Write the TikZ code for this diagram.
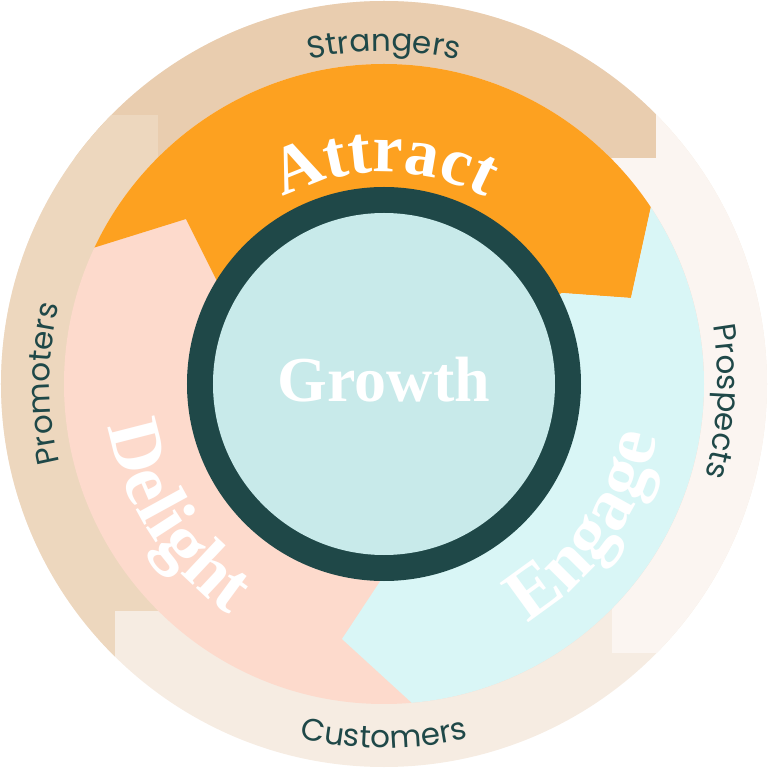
\documentclass[tikz,border=0pt]{standalone}
\usepackage{fontspec}
\usetikzlibrary{decorations.text}
\newfontfamily\dispfont{Liberation Serif}
\newfontfamily\labfont{Poppins}
\definecolor{cStr}{HTML}{E9CDAF}
\definecolor{cPro}{HTML}{EDD7BE}
\definecolor{cCus}{HTML}{F6ECE2}
\definecolor{cPsp}{HTML}{FBF5F1}
\definecolor{cOra}{HTML}{FDA120}
\definecolor{cPea}{HTML}{FDDACC}
\definecolor{cCya}{HTML}{D9F6F6}
\definecolor{cDrk}{HTML}{1F4848}
\definecolor{cIn}{HTML}{C8EAEA}
\newcommand{\labf}{\labfont\fontsize{31}{31}\selectfont}
\newcommand{\bigf}{\dispfont\bfseries\fontsize{68}{68}\selectfont}
\newcommand{\sidef}{\dispfont\bfseries\fontsize{74}{74}\selectfont}
\tikzset{
  lab/.style={decorate,decoration={text along path,text align=center,text color=cDrk,text={|\labf|#1}}},
  big/.style={decorate,decoration={text along path,text align=center,text color=white,text={|\bigf|#1}}},
  bigside/.style={decorate,decoration={text along path,text align=center,text color=white,text={|\sidef|#1}}}
}
\begin{document}
\begin{tikzpicture}[x=1pt,y=1pt]
\useasboundingbox (-384,-384) rectangle (384,384);
\begin{scope}
\clip (0,0) circle (383);
\fill[cCus] (-384,-384) rectangle (384,384);
\fill[cPsp] (228,269) rectangle (384,-269);
\fill[cStr] (-384,384) rectangle (272,226);
\fill[cPro] (-384,269) rectangle (-226,-227);
\fill[cPro] (-384,-227) rectangle (-269,-384);
\end{scope}
\begin{scope}
\clip (0,0) circle (320);
\fill[cPea] (-320,-320) rectangle (320,320);
\fill[cOra] (0,0) -- (-167,103) -- (-198,165) -- (-291,136) -- (-384,92) -- (-384,500) -- (500,500) -- (416,284) -- (268,182) -- (247,86) -- (178,91) -- cycle;
\fill[cCya] (0,0) -- (178,91) -- (247,86) -- (268,182) -- (416,284) -- (500,-500) -- (40,-450) -- (28,-319) -- (-42,-255) -- (-3,-196) -- cycle;
\end{scope}
\node[circle,fill=cDrk,minimum size=394pt,inner sep=0pt] (ring) at (0,0) {};
\node[circle,fill=cIn,minimum size=342pt,inner sep=0pt] (core) at (0,0) {};
\node[text=white,font=\dispfont\bfseries\fontsize{64}{64}\selectfont] (growth) at (0,4) {Growth};
% outer labels
\path[lab=Strangers] (135:333) arc[start angle=135,end angle=45,radius=333];
\path[lab=Prospects] (45:334) arc[start angle=45,end angle=-51,radius=334];
\path[lab=Customers] (225:364) arc[start angle=225,end angle=315,radius=364];
\path[lab=Promoters] (228:334) arc[start angle=228,end angle=132,radius=334];
% band labels
\path[big=Attract] (140:212) arc[start angle=140,end angle=40,radius=212];
\path[bigside=Engage] (-80:278) arc[start angle=-80,end angle=10,radius=278];
\path[bigside=Delight] (170:278) arc[start angle=170,end angle=255,radius=278];
\end{tikzpicture}
\end{document}
